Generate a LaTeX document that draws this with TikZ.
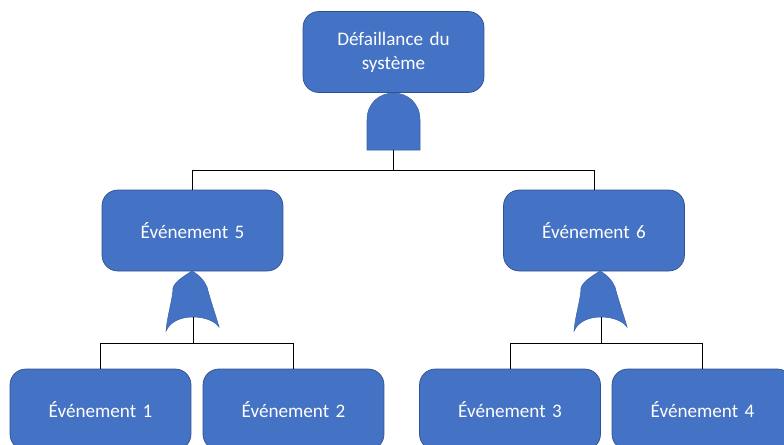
\documentclass[tikz,border=0pt]{standalone}
\usepackage{fontspec}
\setmainfont[WordSpace=0.8]{Carlito}
\usetikzlibrary{positioning}
\definecolor{faultblue}{RGB}{68, 114, 196}
\definecolor{faultedge}{RGB}{47, 82, 143}
\begin{document}
\begin{tikzpicture}[
  x=0.02cm, y=-0.02cm,
  event/.style={draw=faultedge, fill=faultblue, rounded corners=9pt, minimum width=3.62cm, minimum height=1.62cm, text width=3cm, align=center, inner sep=0pt, text=white, font=\fontsize{10.9}{13.6}\selectfont},
  gate/.style={fill=faultblue, draw=faultblue!85!black, line width=0.3pt},
  wire/.style={draw=black, line width=0.5pt},
  andgate/.pic={\path[gate] (-26.5,0) -- (-26.5,-30) .. controls (-26.5,-47) and (-14,-57) .. (0,-57) .. controls (14,-57) and (26.5,-47) .. (26.5,-30) -- (26.5,0) -- cycle;},
  orgate/.pic={\path[gate] (-1,-46) .. controls (-7,-42) and (-18,-36) .. (-20,-29) .. controls (-20,-19) and (-26,0) .. (-27,14) .. controls (-22,3) and (-10,0) .. (0,0) .. controls (10,0) and (21,3) .. (26,10) .. controls (22,-4) and (17,-18) .. (14,-30) .. controls (11,-37) and (6,-42) .. (-1,-46) -- cycle;}
]
  \useasboundingbox (0,0) rectangle (784,444);
  \clip (0,0) rectangle (784,444);
  \node[event] (top) at (393.5,52) {Défaillance du\\système};
  \node[event] (ev5) at (192.5,230.5) {Événement 5};
  \node[event] (ev6) at (594,230.5) {Événement 6};
  \node[event] (ev1) at (100.5,409.5) {Événement 1};
  \node[event] (ev2) at (293.5,409.5) {Événement 2};
  \node[event] (ev3) at (510,409.5) {Événement 3};
  \node[event] (ev4) at (702.5,409.5) {Événement 4};

  \coordinate (gatetop) at (393.5,150);
  \coordinate (gateleft) at (193,317);
  \coordinate (gateright) at (601,317);
  \coordinate (busleft) at (193,343);
  \coordinate (busright) at (601,343);
  \coordinate (bustop) at (393.5,170);

  \pic at (gatetop) {andgate};
  \pic at (gateleft) {orgate};
  \pic at (gateright) {orgate};

  \draw[wire] (gatetop) -- (bustop);
  \draw[wire] (bustop) -| (ev5.north);
  \draw[wire] (bustop) -| (ev6.north);
  \draw[wire] (gateleft) -- (busleft);
  \draw[wire] (busleft) -| (ev1.north);
  \draw[wire] (busleft) -| (ev2.north);
  \draw[wire] (gateright) -- (busright);
  \draw[wire] (busright) -| (ev3.north);
  \draw[wire] (busright) -| (ev4.north);
\end{tikzpicture}
\end{document}
